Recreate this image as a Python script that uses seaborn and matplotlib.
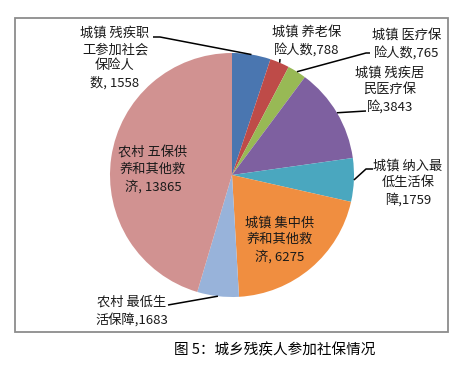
import numpy as np
import matplotlib
matplotlib.use("Agg")
import matplotlib.pyplot as plt
import seaborn as sns
from matplotlib.patches import Rectangle

sns.set_style("white")
plt.rcParams['font.family'] = ['Noto Sans CJK SC', 'DejaVu Sans']

# ---- data ----
categories = ["城镇残疾职工参加社会保险人数", "城镇养老保险人数", "城镇医疗保险人数",
              "城镇残疾居民医疗保险", "城镇纳入最低生活保障", "城镇集中供养和其他救济",
              "农村最低生活保障", "农村五保供养和其他救济"]
values = [1558, 788, 765, 3843, 1759, 6275, 1683, 13865]
label_texts = ["城镇 残疾职\n工参加社会\n保险人\n数, 1558",
               "城镇 养老保\n险人数,788",
               "城镇 医疗保\n险人数,765",
               "城镇 残疾居\n民医疗保\n险,3843",
               "城镇 纳入最\n低生活保\n障,1759",
               "城镇 集中供\n养和其他救\n济, 6275",
               "农村 最低生\n活保障,1683",
               "农村 五保供\n养和其他救\n济, 13865"]
colors = ["#4A76B0", "#BE4B48", "#98B955", "#7E60A0", "#4AA7BF", "#F08E40",
          "#98B3DA", "#D19291"]
caption = "图 5：城乡残疾人参加社保情况"

W, H = 465, 366
fig = plt.figure(figsize=(W / 100, H / 100), dpi=100)
ax = fig.add_axes([0, 0, 1, 1])

cx, cy, R = 232, H - 175, 122
wedges, _ = ax.pie(values, colors=colors, startangle=90, counterclock=False,
                   center=(cx, cy), radius=R, wedgeprops=dict(linewidth=0))
ax.set_xlim(0, W)
ax.set_ylim(0, H)
ax.set_aspect('equal')
ax.axis('off')

# label layout (pixel coords, y from top): text center, leader start (or None)
label_pos = [(115, 58), (307, 41), (407, 44), (390, 90), (408, 183),
             (280, 240), (132, 311), (153, 170)]
leader_start = [[(153, 37), (160, 37)],
                [(280, 59)],
                [(370, 53), (366, 53)],
                [(366, 111)],
                [(373, 169), (366, 169)],
                None,
                [(168, 305)],
                None]

for i, w in enumerate(wedges):
    tx, ty = label_pos[i]
    ax.text(tx, H - ty, label_texts[i], ha='center', va='center',
            fontsize=9.5, color='#1a1a1a', linespacing=1.33)
    if leader_start[i] is not None:
        mid = np.deg2rad((w.theta1 + w.theta2) / 2)
        ex, ey = cx + R * np.cos(mid), cy + R * np.sin(mid)
        xs = [p[0] for p in leader_start[i]] + [ex]
        ys = [H - p[1] for p in leader_start[i]] + [ey]
        ax.plot(xs, ys, color='black', lw=1.1, solid_capstyle='butt')

# border box
fig.patches.append(Rectangle((15 / W, 1 - 332 / H), (448 - 15) / W, (332 - 18) / H,
                             transform=fig.transFigure, fill=False,
                             edgecolor='#8c8c8c', linewidth=1.3))

fig.text(275 / W, 1 - 350 / H, caption, ha='center', va='center', fontsize=10.5,
         color='black')

fig.savefig("out.png", dpi=100)
